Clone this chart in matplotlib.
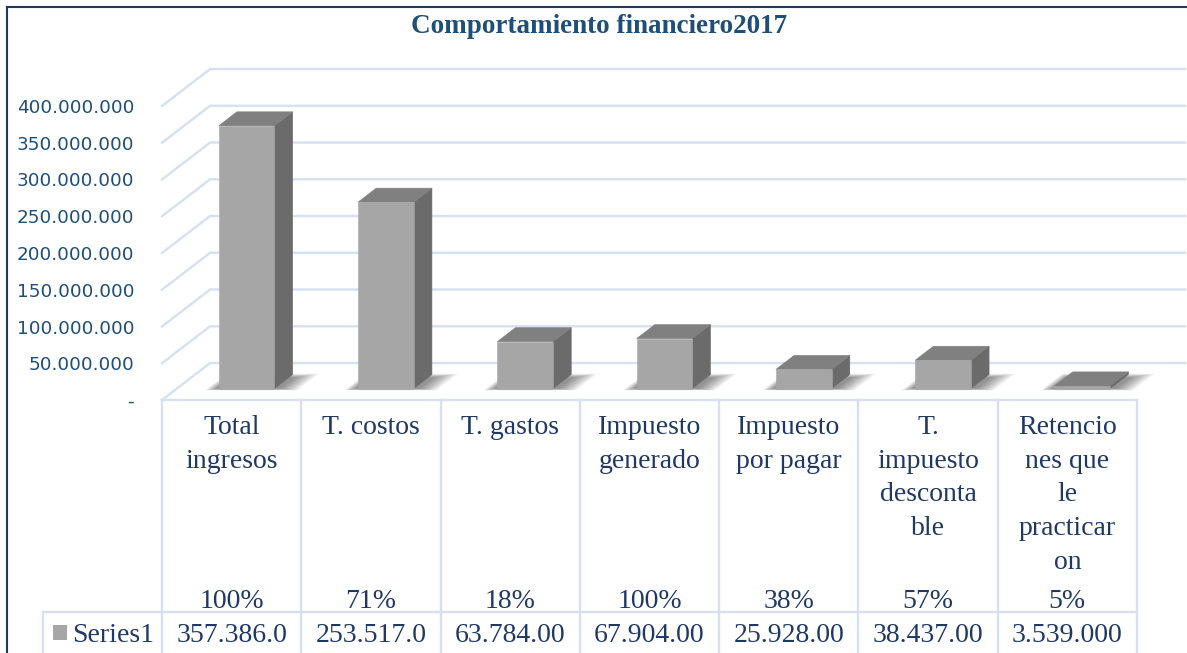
import numpy as np
import matplotlib
matplotlib.use("Agg")
from matplotlib import pyplot as plt
from matplotlib.patches import Polygon, Rectangle
from matplotlib.lines import Line2D
from matplotlib.transforms import blended_transform_factory

categories = ["Total\ningresos", "T. costos", "T. gastos", "Impuesto\ngenerado",
              "Impuesto\npor pagar", "T.\nimpuesto\ndesconta\nble",
              "Retencio\nnes que\nle\npracticar\non"]
values = [357386000, 253517000, 63784000, 67904000, 25928000, 38437000, 3539000]
percents = [100, 71, 18, 100, 38, 57, 5]
series_name = "Series1"
title = "Comportamiento financiero2017"

W, H = 1187, 653
fig = plt.figure(figsize=(W / 100, H / 100), dpi=100)

grid_c = "#d6e0f1"
text_c = "#1f3864"
axis_c = "#1f4e79"
front_c, side_c, top_c = "#a6a6a6", "#6b6b6b", "#808080"

def fy(px):
    return 1 - px / H

# front plane of the 3D box
ax = fig.add_axes([162 / W, fy(400), (1137 - 162) / W, 294 / H])
ax.set_xlim(-0.5, len(values) - 0.5)
ax.set_ylim(0, 400e6)
ax.patch.set_visible(False)
for s in ax.spines.values():
    s.set_visible(False)
ax.set_xticks([])
ticks = np.arange(0, 400e6 + 1, 50e6)
ax.set_yticks(ticks)
ax.set_yticklabels(["-" if t == 0 else f"{int(t):,}".replace(",", ".") for t in ticks])
ax.tick_params(axis="y", length=0, pad=20, labelsize=13.2, labelcolor=axis_c)

DX, DY = 0.345, 50.3e6   # depth offset of back wall
F, D, BW = 0.31, 0.38, 0.4
x_lo, x_hi = -0.5, len(values) - 0.5

# gridlines (side wall + back wall)
for t in ticks:
    ax.plot([x_lo, x_lo + DX, x_hi + DX], [t, t + DY, t + DY], color=grid_c,
            lw=1.7, clip_on=False, zorder=0)

# bars with soft shadows
for i, v in enumerate(values):
    x0 = i - BW / 2 + F * DX
    x1 = x0 + BW
    y0 = F * DY
    y1 = y0 + v
    # shadow on floor, built from stacked translucent layers
    n = 10
    for k in range(n):
        e = (n - k) / n
        ul = x0 - 0.01 - 0.07 * e
        ur = x1 + 0.03 + 0.15 * e
        t0 = -0.05 * e
        t1 = D * (0.75 + 0.3 * e)
        pts = [(ul + t0 * DX, y0 + t0 * DY), (ur + t0 * DX, y0 + t0 * DY),
               (ur + t1 * DX, y0 + t1 * DY), (ul + t1 * DX, y0 + t1 * DY)]
        ax.add_patch(Polygon(pts, closed=True, facecolor="black", edgecolor="none",
                             alpha=0.05, clip_on=False, zorder=1))
    front = [(x0, y0), (x1, y0), (x1, y1), (x0, y1)]
    side = [(x1, y0), (x1 + D * DX, y0 + D * DY), (x1 + D * DX, y1 + D * DY), (x1, y1)]
    top = [(x0, y1), (x1, y1), (x1 + D * DX, y1 + D * DY), (x0 + D * DX, y1 + D * DY)]
    for pts, c in ((side, side_c), (top, top_c), (front, front_c)):
        ax.add_patch(Polygon(pts, closed=True, facecolor=c, edgecolor=c, lw=0.4,
                             clip_on=False, zorder=2))

# data table below the chart
tr = blended_transform_factory(ax.transData, fig.transFigure)
for k in range(len(values) + 1):
    fig.add_artist(Line2D([x_lo + k, x_lo + k], [fy(400), fy(H + 5)], color=grid_c,
                          lw=1.7, transform=tr))
fig.add_artist(Line2D([x_lo, x_hi], [fy(400), fy(400)], color=grid_c, lw=1.7, transform=tr))
fig.add_artist(Line2D([43 / W, 1137 / W], [fy(612), fy(612)], color=grid_c, lw=1.7))
fig.add_artist(Line2D([43 / W, 43 / W], [fy(612), fy(H + 5)], color=grid_c, lw=1.7))

serif = "Liberation Serif"
for i, lab in enumerate(categories):
    for j, line in enumerate(lab.split("\n")):
        fig.text(i, fy(434 + 33.7 * j), line, transform=tr, ha="center", va="baseline",
                 fontsize=20, family=serif, color=text_c)
    fig.text(i, fy(608), f"{percents[i]}%", transform=tr, ha="center", va="baseline",
             fontsize=20, family=serif, color=text_c)
    s = f"{values[i]:,}".replace(",", ".")[:9]
    fig.text(i, fy(642), s, transform=tr, ha="center", va="baseline",
             fontsize=20, family=serif, color=text_c)

fig.add_artist(Rectangle((53 / W, fy(640)), 14 / W, 15 / H, facecolor=front_c,
                         edgecolor="none"))
fig.text(72 / W, fy(642), series_name, ha="left", va="baseline", fontsize=20,
         family=serif, color=text_c)

# title
fig.text(599 / W, fy(33), title, ha="center", va="baseline", fontsize=19.5,
         family=serif, fontweight="bold", color=axis_c)

# chart border
fig.add_artist(Line2D([7 / W, 1.0], [fy(7), fy(7)], color=text_c, lw=1.5))
fig.add_artist(Line2D([7 / W, 7 / W], [fy(7), 0], color=text_c, lw=1.5))

fig.savefig("out.png", dpi=100)
